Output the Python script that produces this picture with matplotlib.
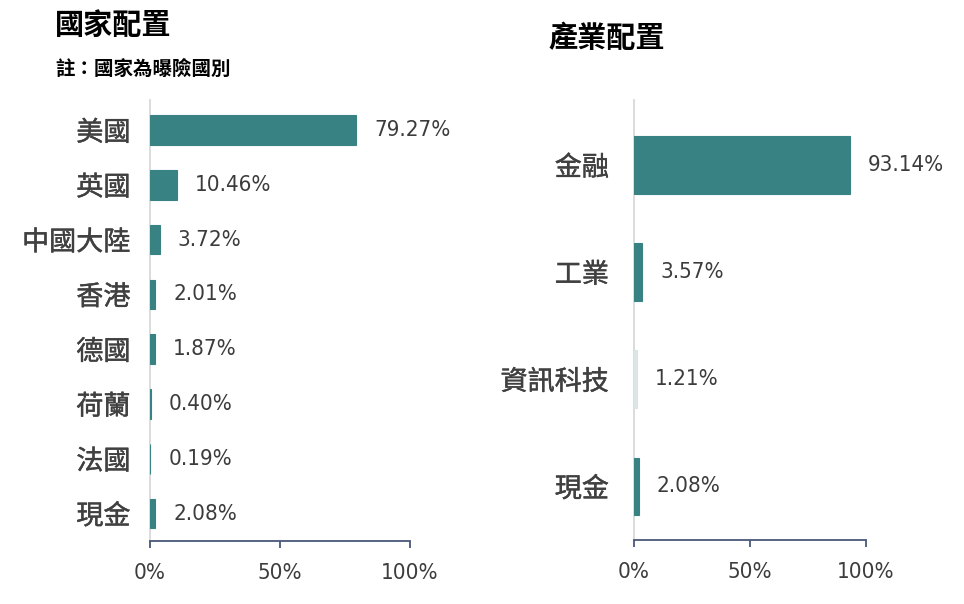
import matplotlib
matplotlib.use("Agg")
import matplotlib.pyplot as plt
import matplotlib.patheffects as pe

plt.rcParams['font.family'] = ['Noto Sans CJK TC', 'DejaVu Sans']

country_labels = ['美國', '英國', '中國大陸', '香港', '德國', '荷蘭', '法國', '現金']
country_values = [79.27, 10.46, 3.72, 2.01, 1.87, 0.40, 0.19, 2.08]

sector_labels = ['金融', '工業', '資訊科技', '現金']
sector_values = [93.14, 3.57, 1.21, 2.08]

xticks = [0, 50, 100]
xtick_labels = ['0%', '50%', '100%']

TEAL = '#398283'
LIGHT = '#dbe5e5'
sector_colors = [TEAL, TEAL, LIGHT, TEAL]

NUMFONT = ['DejaVu Sans']
TXT = '#3c3c3c'
LBL = '#404040'
AXIS = '#4a5878'

fig = plt.figure(figsize=(9.64, 6.04), dpi=100)


def style(ax, labels, values, colors, ylim, ypad):
    y = list(range(len(labels)))
    ax.barh(y, values, height=0.54, color=colors, edgecolor=colors, linewidth=0.8, zorder=3)
    ax.set_xlim(0, 100)
    ax.set_ylim(*ylim)
    ax.set_yticks(y)
    ax.set_yticklabels(labels, fontsize=19.5, color=LBL, fontweight='normal')
    for t in ax.get_yticklabels():
        t.set_path_effects([pe.withStroke(linewidth=0.3, foreground=LBL)])
    ax.tick_params(axis='y', length=0, pad=ypad)
    ax.set_xticks(xticks)
    ax.set_xticklabels(xtick_labels, fontsize=16, color=TXT, family=NUMFONT,
                       fontstretch='condensed')
    ax.tick_params(axis='x', length=5, width=1.3, color=AXIS, pad=11)
    for s in ['top', 'right']:
        ax.spines[s].set_visible(False)
    ax.spines['left'].set_color('#d9d9d9')
    ax.spines['left'].set_linewidth(1.3)
    ax.spines['left'].set_zorder(1)
    ax.spines['bottom'].set_color(AXIS)
    ax.spines['bottom'].set_linewidth(1.3)
    for yi, v in zip(y, values):
        ax.annotate(f'{v:.2f}%', xy=(v, yi), xytext=(13, 0), textcoords='offset points',
                    ha='left', va='center', fontsize=16, color=TXT, family=NUMFONT,
                    fontstretch='condensed')


ax1 = fig.add_axes([150 / 964, 1 - 541 / 604, 260 / 964, 441 / 604])
style(ax1, country_labels, country_values, TEAL, (7.5, -0.55), 14)

ax2 = fig.add_axes([634 / 964, 1 - 540 / 604, 232 / 964, 440 / 604])
style(ax2, sector_labels, sector_values, sector_colors, (3.5, -0.607), 18)

fig.text(55 / 964, 1 - 25 / 604, '國家配置', fontsize=21, fontweight='bold', color='black',
         ha='left', va='center')
fig.text(55 / 964, 1 - 69 / 604, '註：國家為曝險國別', fontsize=14, fontweight='bold', color='black',
         ha='left', va='center')
fig.text(607 / 964, 1 - 38 / 604, '產業配置', fontsize=21, fontweight='bold', color='black',
         ha='center', va='center')

fig.savefig('out.png', dpi=100)
